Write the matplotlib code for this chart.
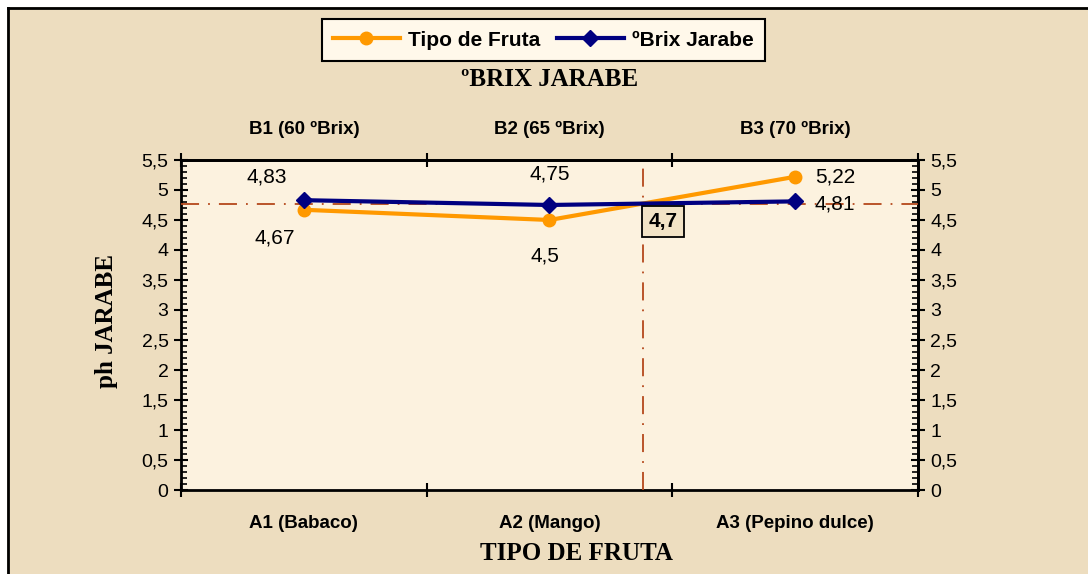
import numpy as np
import matplotlib
matplotlib.use('Agg')
import matplotlib.pyplot as plt
from matplotlib.ticker import MultipleLocator, FixedLocator, NullFormatter, FuncFormatter

plt.rcParams['font.family'] = ['Liberation Sans', 'DejaVu Sans']

# datos
frutas = ['A1 (Babaco)', 'A2 (Mango)', 'A3 (Pepino dulce)']
brix = ['B1 (60 ºBrix)', 'B2 (65 ºBrix)', 'B3 (70 ºBrix)']
ph_fruta = [4.67, 4.50, 5.22]
ph_brix = [4.83, 4.75, 4.81]
lbl_fruta = ['4,67', '4,5', '5,22']
lbl_brix = ['4,83', '4,75', '4,81']
interaccion = '4,7'

c_fruta = '#FF9900'
c_brix = '#000080'
c_ref = '#B5481C'

fig = plt.figure(figsize=(10.88, 5.74), dpi=100)
fig.patch.set_facecolor('#EDDDBF')
ax = fig.add_axes([0.1664, 0.1463, 0.6773, 0.5750])
ax.set_facecolor('#FCF2DF')

x = np.arange(len(frutas))
ax.plot(x, ph_fruta, color=c_fruta, lw=3, marker='o', ms=9, label='Tipo de Fruta', zorder=4)
ax.plot(x, ph_brix, color=c_brix, lw=3, marker='D', ms=8, label='ºBrix Jarabe', zorder=5)

# punto de interaccion (cruce entre A2 y A3)
d0 = ph_brix[1] - ph_fruta[1]
d1 = ph_brix[2] - ph_fruta[2]
t = d0 / (d0 - d1)
xc = x[1] + t
yc = ph_fruta[1] + t * (ph_fruta[2] - ph_fruta[1])
ax.axhline(yc, color=c_ref, lw=1.3, ls=(0, (10, 5, 1, 5)), zorder=3)
ax.axvline(xc, color=c_ref, lw=1.3, ls=(0, (10, 5, 1, 5)), zorder=3)
ax.text(xc + 0.025, yc - 0.14, interaccion, fontsize=15, fontweight='bold', ha='left', va='top',
        bbox=dict(boxstyle='square,pad=0.3', fc='#F2E3C6', ec='black', lw=1.3), zorder=6)

# etiquetas de datos
fr_off = [(-0.12, -0.47), (-0.02, -0.6), (0.08, -0.01)]
br_off = [(-0.15, 0.39), (0.0, 0.52), (0.08, -0.05)]
for i in range(len(x)):
    ax.text(x[i] + fr_off[i][0], ph_fruta[i] + fr_off[i][1], lbl_fruta[i], fontsize=15,
            ha='center' if i < 2 else 'left', va='center', zorder=7)
    ax.text(x[i] + br_off[i][0], ph_brix[i] + br_off[i][1], lbl_brix[i], fontsize=15,
            ha='center' if i < 2 else 'left', va='center', zorder=7)

ax.set_xlim(-0.5, 2.5)
ax.set_ylim(0, 5.5)

bounds = [-0.5, 0.5, 1.5, 2.5]
coma = FuncFormatter(lambda v, p: ('%g' % v).replace('.', ','))

# eje inferior
ax.xaxis.set_major_locator(FixedLocator(bounds))
ax.xaxis.set_major_formatter(NullFormatter())
ax.set_xticks(x, minor=True)
ax.set_xticklabels(frutas, minor=True, fontsize=13.5, fontweight='bold')
ax.tick_params(axis='x', which='major', direction='inout', length=10, width=1.5, top=True)
ax.tick_params(axis='x', which='minor', length=0, pad=18)

# eje superior
axt = ax.secondary_xaxis('top')
axt.xaxis.set_major_locator(FixedLocator(bounds))
axt.xaxis.set_major_formatter(NullFormatter())
axt.set_xticks(x, minor=True)
axt.set_xticklabels(brix, minor=True, fontsize=13.5, fontweight='bold')
axt.tick_params(axis='x', which='major', length=0)
axt.tick_params(axis='x', which='minor', length=0, pad=16)

# ejes y
ax.yaxis.set_major_locator(MultipleLocator(0.5))
ax.yaxis.set_minor_locator(MultipleLocator(0.1))
ax.yaxis.set_major_formatter(coma)
ax.tick_params(axis='y', which='major', direction='inout', length=10, width=1.5, labelsize=14, pad=4)
ax.tick_params(axis='y', which='minor', direction='in', length=4, width=1.2)

axr = ax.secondary_yaxis('right')
axr.yaxis.set_major_locator(MultipleLocator(0.5))
axr.yaxis.set_minor_locator(MultipleLocator(0.1))
axr.yaxis.set_major_formatter(coma)
axr.tick_params(axis='y', which='major', direction='inout', length=10, width=1.5, labelsize=14, pad=4)
axr.tick_params(axis='y', which='minor', direction='in', length=4, width=1.2)

for a in (ax, axt, axr):
    for s in a.spines.values():
        s.set_linewidth(2)
        s.set_color('black')

# titulos de ejes
tfont = dict(family=['Liberation Serif', 'DejaVu Serif'], fontsize=18, fontweight='bold')
fig.text(550 / 1088, 1 - 80 / 574, 'ºBRIX JARABE', ha='center', va='center', **tfont)
fig.text(576 / 1088, 1 - 553 / 574, 'TIPO DE FRUTA', ha='center', va='center', **tfont)
fig.text(107 / 1088, 1 - 321 / 574, 'ph JARABE', ha='center', va='center', rotation=90, **tfont)

leg = fig.legend(loc='center', bbox_to_anchor=(0.4995, 0.930), ncol=2,
                 prop={'weight': 'bold', 'size': 15}, frameon=True, fancybox=False,
                 handlelength=3.2, columnspacing=0.8, handletextpad=0.4, borderpad=0.55)
leg.get_frame().set_facecolor('#FFF8EA')
leg.get_frame().set_edgecolor('black')
leg.get_frame().set_linewidth(1.5)
leg.get_frame().set_alpha(1)

# marco exterior (borde izquierdo y superior)
fig.patches.append(plt.Rectangle((0, 1 - 7 / 574), 1, 7 / 574, fc='white', ec='none', transform=fig.transFigure))
fig.patches.append(plt.Rectangle((0, 0), 7 / 1088, 1, fc='white', ec='none', transform=fig.transFigure))
fig.add_artist(plt.Line2D([8 / 1088, 8 / 1088], [0, 1 - 8 / 574], color='black', lw=2, transform=fig.transFigure))
fig.add_artist(plt.Line2D([8 / 1088, 1], [1 - 8 / 574, 1 - 8 / 574], color='black', lw=2, transform=fig.transFigure))

fig.savefig('out.png', dpi=100, facecolor=fig.get_facecolor())
